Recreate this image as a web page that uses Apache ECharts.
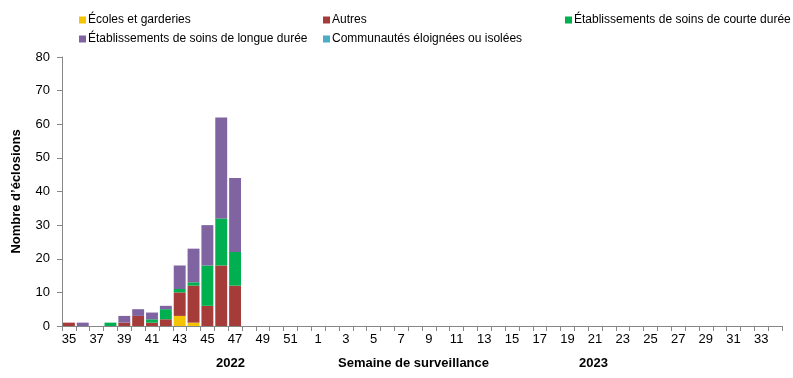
<!DOCTYPE html>
<html>
<head>
<meta charset="utf-8">
<script src="https://cdn.jsdelivr.net/npm/echarts@6/dist/echarts.min.js"></script>
<style>
html, body { margin: 0; padding: 0; background: #fff; }
#chart { width: 793px; height: 378px; }
</style>
</head>
<body>
<div id="chart"></div>
<script>
// semaines 35-52 (2022) puis 1-34 (2023)
const weeks = [];
for (let w = 35; w <= 52; w++) weeks.push(String(w));
for (let w = 1; w <= 34; w++) weeks.push(String(w));

const seriesNames = [
    'Écoles et garderies',
    'Autres',
    'Établissements de soins de courte durée',
    'Établissements de soins de longue durée',
    'Communautés éloignées ou isolées'
];
const colors = ['#f5c400', '#a53c3a', '#00b050', '#8064a2', '#4bacc6'];

// valeurs pour les semaines 35 à 47 ; le reste est vide
const ecoles      = [0, 0, 0, 0, 0, 0, 0, 0, 3, 1, 0, 0, 0];
const autres      = [1, 0, 0, 0, 1, 3, 1, 2, 7, 11, 6, 18, 12];
const courteDuree = [0, 0, 0, 1, 0, 0, 1, 3, 1, 1, 12, 14, 10];
const longueDuree = [0, 1, 0, 0, 2, 2, 2, 1, 7, 10, 12, 30, 22];
const communautes = [0, 0, 0, 0, 0, 0, 0, 0, 0, 0, 0, 0, 0];

const yTicks = [0, 10, 20, 30, 40, 50, 60, 70, 80];

function pad(arr) {
    return weeks.map((w, i) => (i < arr.length && arr[i] > 0) ? arr[i] : null);
}

const dataSets = [ecoles, autres, courteDuree, longueDuree, communautes];
const series = dataSets.map((d, i) => ({
    name: seriesNames[i],
    type: 'bar',
    stack: 'total',
    barCategoryGap: '14%',
    itemStyle: { color: colors[i] },
    data: pad(d)
}));

const font = 'Liberation Sans Narrow, Liberation Sans, Arial, sans-serif';
const legendText = { fontSize: 12, color: '#000', fontFamily: 'Liberation Sans, Arial, sans-serif', padding: [0, 0, 0, -3] };

const option = {
    animation: false,
    textStyle: { fontFamily: font },
    legend: [
        {
            data: [seriesNames[0], seriesNames[3]],
            orient: 'vertical', left: 74, top: 9,
            itemWidth: 7, itemHeight: 7, itemGap: 7,
            icon: 'rect', textStyle: legendText
        },
        {
            data: [seriesNames[1], seriesNames[4]],
            orient: 'vertical', left: 318, top: 9,
            itemWidth: 7, itemHeight: 7, itemGap: 7,
            icon: 'rect', textStyle: legendText
        },
        {
            data: [seriesNames[2]],
            orient: 'vertical', left: 560, top: 9,
            itemWidth: 7, itemHeight: 7, itemGap: 7,
            icon: 'rect', textStyle: legendText
        }
    ],
    grid: { left: 62, right: 11, top: 57, bottom: 52, containLabel: false },
    xAxis: {
        type: 'category',
        data: weeks,
        axisLine: { lineStyle: { color: '#868686' } },
        axisTick: { show: true, interval: 0, length: 5, lineStyle: { color: '#868686' } },
        axisLabel: { interval: 1, fontSize: 13, color: '#000', margin: 7 }
    },
    yAxis: {
        type: 'value',
        min: 0, max: 80, interval: 10,
        name: 'Nombre d\u2019éclosions',
        nameLocation: 'middle',
        nameGap: 39,
        nameTextStyle: { fontWeight: 'bold', fontSize: 13, color: '#000' },
        axisLine: { show: true, lineStyle: { color: '#868686' } },
        axisTick: { show: true, length: 5, lineStyle: { color: '#868686' } },
        axisLabel: {
            fontSize: 13, color: '#000', margin: 12,
            formatter: v => yTicks.includes(v) ? String(v) : ''
        },
        splitLine: { show: false }
    },
    graphic: [
        { type: 'text', left: 216, top: 357, style: { text: '2022', font: 'bold 13px ' + font, fill: '#000' } },
        { type: 'text', left: 338, top: 357, style: { text: 'Semaine de surveillance', font: 'bold 13px ' + font, fill: '#000' } },
        { type: 'text', left: 579, top: 357, style: { text: '2023', font: 'bold 13px ' + font, fill: '#000' } }
    ],
    series: series
};

const chart = echarts.init(document.getElementById('chart'));
chart.setOption(option);
</script>
</body>
</html>
